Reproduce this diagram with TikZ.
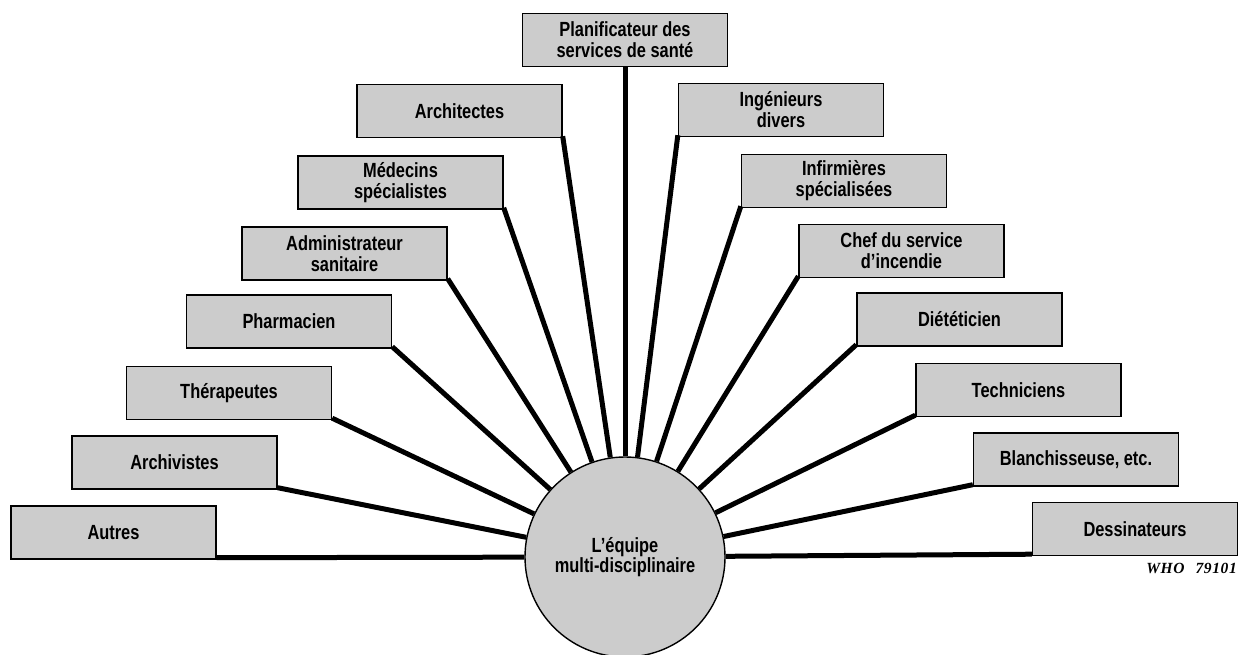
\documentclass[tikz,border=0pt]{standalone}
\usepackage{fontspec}
\newfontfamily\labelfont{Liberation Sans}[FakeStretch=0.8]
\newfontfamily\codefont{Liberation Serif}[LetterSpace=4]
\begin{document}
\begin{tikzpicture}[x=1pt,y=-1pt,
  role/.style={draw=black, line width=1.4pt, fill=black!20,
    minimum width=205pt, minimum height=53pt, inner sep=2pt, align=center,
    font=\labelfont\bfseries\fontsize{20.5}{21}\selectfont},
  team/.style={circle, draw=black, line width=1.4pt, fill=black!20,
    minimum size=200pt, inner sep=0pt, align=center,
    font=\labelfont\bfseries\fontsize{20.5}{23}\selectfont},
  link/.style={line width=5pt}]
\useasboundingbox (0,0) rectangle (1238,655);

% left fan
\node[role] (autres)  at (113.5,532.5) {Autres};
\node[role] (archiv)  at (174.5,462.5) {Archivistes};
\node[role] (therap)  at (229,393)     {Thérapeutes};
\node[role] (pharma)  at (289,321.5)   {Pharmacien};
\node[role] (admin)   at (344.5,253.5) {Administrateur\\sanitaire};
\node[role] (medec)   at (400.5,182.5) {Médecins\\spécialistes};
\node[role] (archit)  at (459.5,111)   {Architectes};
% top
\node[role] (planif)  at (625,40)      {Planificateur des\\services de santé};
% right fan
\node[role] (ingen)   at (781,110)     {Ingénieurs\\divers};
\node[role] (infirm)  at (844,181)     {Infirmières\\spécialisées};
\node[role] (chef)    at (901.5,251)   {Chef du service\\d’incendie};
\node[role] (dietet)  at (959.5,319.5) {Diététicien};
\node[role] (techn)   at (1018.5,390)  {Techniciens};
\node[role] (blanch)  at (1076,459.5)  {Blanchisseuse, etc.};
\node[role] (dessin)  at (1135,529)    {Dessinateurs};

% central team
\node[team] (team) at (625,557) {\raisebox{-4pt}{L’équipe}\\multi-disciplinaire};

% spokes
\foreach \n in {autres,archiv,therap,pharma,admin,medec,archit}
  \draw[link] ([yshift=2pt]\n.south east) -- (team);
\draw[link] (planif.south) -- (team);
\foreach \n in {ingen,infirm,chef,dietet,techn,blanch,dessin}
  \draw[link] ([yshift=2pt]\n.south west) -- (team);

\node[anchor=east, inner sep=0pt,
  font=\codefont\bfseries\itshape\fontsize{15.5}{16}\selectfont] (code)
  at (1237,568) {WHO\hspace{11pt}79101};
\end{tikzpicture}
\end{document}
